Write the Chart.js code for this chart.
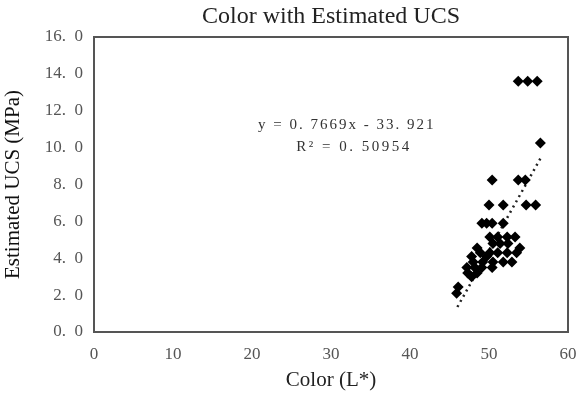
<!DOCTYPE html>
<html>
<head>
<meta charset="utf-8">
<script src="https://cdn.jsdelivr.net/npm/chart.js@4"></script>
<style>
  html, body { margin: 0; padding: 0; background: #fff; }
  #wrap { width: 577px; height: 399px; }
</style>
</head>
<body>
<div id="wrap"><canvas id="ucsChart"></canvas></div>
<script>
// Color (L*) vs estimated UCS (MPa)
const colorL = [
    53.7, 54.9, 56.1,
    56.5,
    50.4, 53.7, 54.6,
    50.0, 51.8, 54.7, 55.9,
    49.1, 49.7, 50.4, 51.8,
    50.1, 51.1, 52.3, 53.3,
    50.5, 51.4, 52.4,
    48.5, 53.9,
    48.9, 50.1, 51.1, 52.3, 53.5,
    47.8, 49.7,
    48.0, 49.2, 50.5, 51.8, 52.9,
    47.2, 48.2, 49.1, 50.4,
    47.3, 48.5,
    47.8,
    46.1,
    45.9
];
const ucs = [
    13.6, 13.6, 13.6,
    10.25,
    8.24, 8.24, 8.24,
    6.89, 6.89, 6.89, 6.89,
    5.9, 5.9, 5.9, 5.9,
    5.15, 5.15, 5.15, 5.15,
    4.8, 4.8, 4.8,
    4.55, 4.55,
    4.3, 4.3, 4.3, 4.3, 4.3,
    4.1, 4.1,
    3.8, 3.8, 3.8, 3.8, 3.8,
    3.5, 3.5, 3.5, 3.5,
    3.2, 3.2,
    3.0,
    2.44,
    2.1
];

// linear trend as given on the chart
const trendSlope = 0.7669;
const trendIntercept = -33.921;
const trendRange = [46.0, 56.5];
const equationLines = ['y = 0. 7669x - 33. 921', 'R\u00b2 = 0. 50954'];

const serif = '"Liberation Serif", "Times New Roman", serif';

const points = colorL.map((x, i) => ({ x: x, y: ucs[i] }));
const trend = trendRange.map(x => ({ x: x, y: trendSlope * x + trendIntercept }));

// frame round the plot area + equation text
const framePlugin = {
    id: 'frame',
    afterDraw(chart) {
        const a = chart.chartArea;
        const c = chart.ctx;
        c.save();
        c.strokeStyle = '#555';
        c.lineWidth = 2;
        c.strokeRect(a.left, a.top, a.right - a.left, a.bottom - a.top);

        const xs = chart.scales.x, ys = chart.scales.y;
        c.fillStyle = '#333';
        c.font = '15px ' + serif;
        c.letterSpacing = '2px';
        c.textAlign = 'center';
        c.textBaseline = 'middle';
        c.fillText(equationLines[0], xs.getPixelForValue(32.0), ys.getPixelForValue(11.23));
        c.letterSpacing = '2.5px';
        c.fillText(equationLines[1], xs.getPixelForValue(32.9), ys.getPixelForValue(10.05));
        c.restore();
    }
};

new Chart(document.getElementById('ucsChart'), {
    type: 'scatter',
    data: {
        datasets: [
            {
                data: points,
                pointStyle: 'rectRot',
                pointRadius: 5.5,
                backgroundColor: '#000',
                borderColor: '#000',
                borderWidth: 0
            },
            {
                type: 'line',
                data: trend,
                borderColor: '#222',
                borderWidth: 2.5,
                borderDash: [2, 4],
                pointRadius: 0,
                fill: false
            }
        ]
    },
    options: {
        responsive: true,
        maintainAspectRatio: false,
        animation: false,
        layout: { padding: { left: 0, right: 0, top: 0, bottom: 0 } },
        plugins: {
            legend: { display: false },
            tooltip: { enabled: false },
            title: {
                display: true,
                text: 'Color with Estimated UCS',
                fullSize: false,
                color: '#222',
                font: { family: serif, size: 24, weight: 'normal' },
                padding: { top: 2, bottom: 6.2 }
            }
        },
        scales: {
            x: {
                type: 'linear',
                min: 0,
                max: 60,
                afterFit(s) {
                    s.height = 67;
                    s.paddingLeft = 0;
                    s.paddingRight = 9;
                },
                grid: { display: false, drawTicks: false },
                border: { display: false },
                ticks: {
                    stepSize: 10,
                    padding: 12,
                    color: '#555',
                    font: { family: serif, size: 17 }
                },
                title: {
                    display: true,
                    text: 'Color (L*)',
                    color: '#222',
                    font: { family: serif, size: 21 },
                    padding: { top: 0, bottom: 6 }
                }
            },
            y: {
                type: 'linear',
                min: 0,
                max: 16,
                afterFit(s) { s.width = 94; },
                grid: { display: false, drawTicks: false },
                border: { display: false },
                ticks: {
                    stepSize: 2,
                    padding: 11,
                    color: '#555',
                    font: { family: serif, size: 17 },
                    callback: v => v.toFixed(1).replace('.', '.\u2002')
                },
                title: {
                    display: true,
                    text: 'Estimated UCS (MPa)',
                    color: '#111',
                    font: { family: serif, size: 21 },
                    padding: { top: 1, bottom: 0 }
                }
            }
        }
    },
    plugins: [framePlugin]
});
</script>
</body>
</html>
